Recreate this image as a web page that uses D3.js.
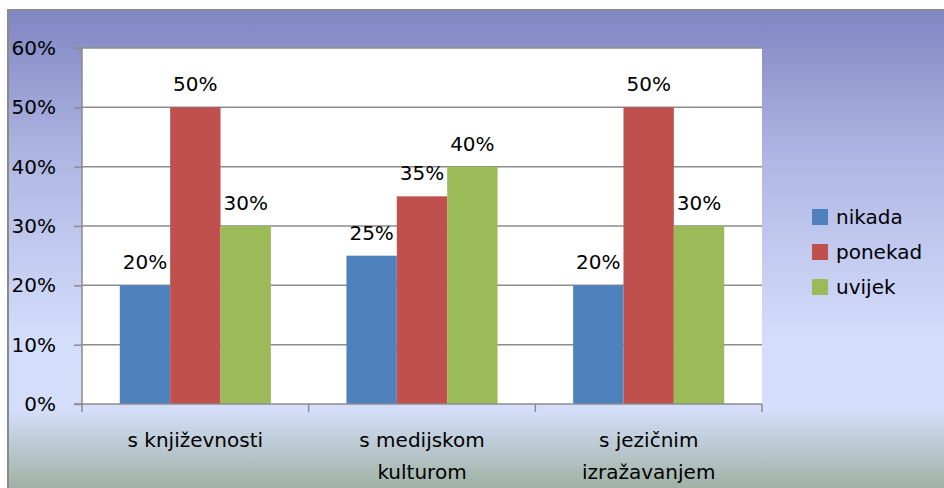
<!DOCTYPE html>
<html>
<head>
<meta charset="utf-8">
<script src="https://cdn.jsdelivr.net/npm/d3@7"></script>
<style>
  body { margin: 0; background: #fff; }
  svg { display: block; }
  text { font-family: "DejaVu Sans", sans-serif; fill: #000; }
</style>
</head>
<body>
<svg id="chart" width="944" height="488"></svg>
<script>
const categories = ["s književnosti", "s medijskom kulturom", "s jezičnim izražavanjem"];
const categoryLines = [["s književnosti"], ["s medijskom", "kulturom"], ["s jezičnim", "izražavanjem"]];
const seriesNames = ["nikada", "ponekad", "uvijek"];
const nikada = [20, 25, 20];
const ponekad = [50, 35, 50];
const uvijek = [30, 40, 30];
const yTicks = [0, 10, 20, 30, 40, 50, 60];
const colors = ["#4f81bd", "#c0504d", "#9bbb59"];

let svg = d3.select('#chart');
let values = [nikada, ponekad, uvijek];

let plot = { left: 82, right: 762, top: 48, bottom: 404 };

// background gradient
let defs = svg.append('defs');
let grad = defs.append('linearGradient')
  .attr('id', 'bg')
  .attr('x1', 0).attr('y1', 0).attr('x2', 0).attr('y2', 1);
[[0, '#7f86c2'], [0.3, '#afb6e3'], [0.68, '#d4ddfb'], [0.82, '#d4defa'], [1, '#98ac98']]
  .forEach(s => grad.append('stop').attr('offset', s[0]).attr('stop-color', s[1]));

svg.append('rect')
  .attr('x', 8).attr('y', 10)
  .attr('width', 944).attr('height', 488)
  .attr('fill', 'url(#bg)');
svg.append('path')
  .attr('d', 'M8,488V10H944')
  .attr('fill', 'none')
  .attr('stroke', '#8a8a8a')
  .attr('stroke-width', 2);

svg.append('rect')
  .attr('x', plot.left).attr('y', plot.top)
  .attr('width', plot.right - plot.left).attr('height', plot.bottom - plot.top)
  .attr('fill', '#fff');

let yScale = d3.scaleLinear()
  .domain([0, 60])
  .range([plot.bottom, plot.top]);

let x0 = d3.scaleBand()
  .domain(categories)
  .range([plot.left, plot.right]);

let bw = x0.bandwidth();
let x1 = d3.scaleBand()
  .domain(seriesNames)
  .range([bw * 0.75 / 4.5, bw * 3.75 / 4.5]);

// gridlines
svg.append('g')
  .selectAll('line')
  .data(yTicks.filter(d => d > 0))
  .enter()
  .append('line')
  .attr('x1', plot.left).attr('x2', plot.right)
  .attr('y1', d => yScale(d)).attr('y2', d => yScale(d))
  .attr('stroke', '#8c8c8c')
  .attr('stroke-width', 1.5);

// bars
let groups = svg.selectAll('.group')
  .data(categories)
  .enter()
  .append('g')
  .attr('class', 'group')
  .attr('transform', d => `translate(${x0(d)},0)`);

seriesNames.forEach((s, si) => {
  groups.append('rect')
    .attr('x', x1(s))
    .attr('width', x1.bandwidth())
    .attr('y', (d, i) => yScale(values[si][i]))
    .attr('height', (d, i) => plot.bottom - yScale(values[si][i]))
    .attr('fill', colors[si]);
});

seriesNames.forEach((s, si) => {
  groups.append('text')
    .attr('x', x1(s) + x1.bandwidth() / 2)
    .attr('y', (d, i) => yScale(values[si][i]) - 16)
    .attr('text-anchor', 'middle')
    .style('font-size', '20px')
    .text((d, i) => values[si][i] + '%');
});

// y axis
let yAxis = svg.append('g')
  .attr('transform', `translate(${plot.left},0)`)
  .call(d3.axisLeft(yScale).tickValues(yTicks).tickSize(8).tickPadding(18).tickFormat(d => d + '%'));
yAxis.select('.domain').attr('stroke', '#8c8c8c').attr('stroke-width', 1.5).attr('d', `M-8,${plot.top}H0V${plot.bottom}H-8`);
yAxis.selectAll('.tick line').attr('stroke', '#8c8c8c').attr('stroke-width', 1.5);
yAxis.selectAll('.tick text').style('font-size', '20px').style('font-family', '"DejaVu Sans", sans-serif').attr('fill', '#000');

// x axis
let xAxis = svg.append('g');
xAxis.append('line')
  .attr('x1', plot.left).attr('x2', plot.right)
  .attr('y1', plot.bottom).attr('y2', plot.bottom)
  .attr('stroke', '#8c8c8c').attr('stroke-width', 1.5);
xAxis.selectAll('.xtick')
  .data(categories.map(c => x0(c)).concat([plot.right]))
  .enter()
  .append('line')
  .attr('x1', d => d).attr('x2', d => d)
  .attr('y1', plot.bottom).attr('y2', plot.bottom + 8)
  .attr('stroke', '#8c8c8c').attr('stroke-width', 1.5);

xAxis.selectAll('.xlabel')
  .data(categories)
  .enter()
  .append('text')
  .attr('text-anchor', 'middle')
  .attr('transform', d => `translate(${x0(d) + bw / 2},${plot.bottom + 43})`)
  .style('font-size', '20px')
  .each(function (d, i) {
    categoryLines[i].forEach((line, li) => {
      d3.select(this).append('tspan')
        .attr('x', 0)
        .attr('y', li * 32)
        .text(line);
    });
  });

// legend
let legend = svg.selectAll('.legend')
  .data(seriesNames)
  .enter()
  .append('g')
  .attr('class', 'legend')
  .attr('transform', (d, i) => `translate(812, ${209 + i * 35})`);

legend.append('rect')
  .attr('width', 16).attr('height', 16)
  .attr('fill', (d, i) => colors[i]);

legend.append('text')
  .attr('x', 24).attr('y', 15)
  .style('font-size', '20px')
  .text(d => d);
</script>
</body>
</html>
